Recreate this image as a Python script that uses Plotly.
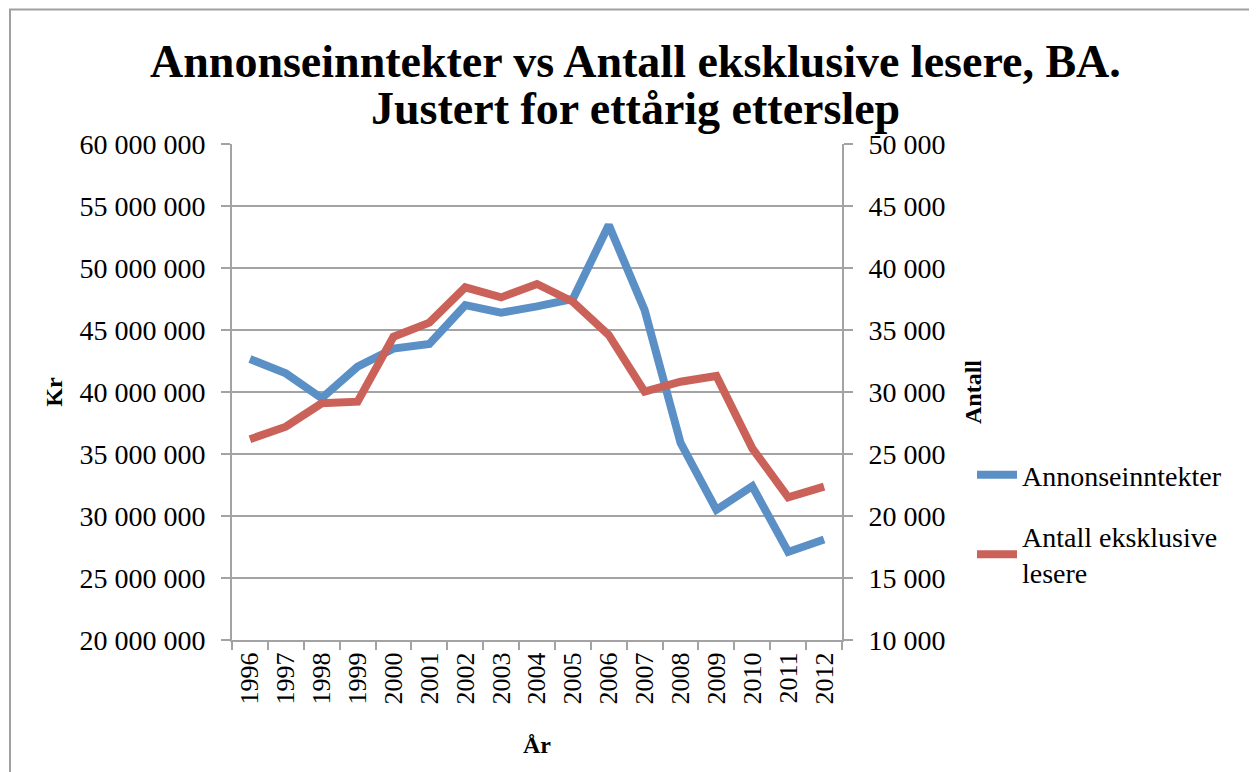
import plotly.graph_objects as go

years = [str(y) for y in range(1996, 2013)]
annonseinntekter = [42660000, 41500000, 39500000, 42040000, 43500000, 43870000, 47000000,
                    46400000, 46900000, 47500000, 53470000, 46600000, 35900000, 30500000,
                    32400000, 27100000, 28100000]
eksklusive_lesere = [26190, 27200, 29090, 29220, 34460, 35590, 38440, 37630, 38710,
                     37280, 34600, 30030, 30830, 31290, 25460, 21500, 22370]

title_line1 = "Annonseinntekter vs Antall eksklusive lesere, BA."
title_line2 = "Justert for ettårig etterslep"
blue = "#5b90c7"
red = "#cb625a"
grid = "#a3a3a3"
font_family = "Liberation Serif"

# page body has an 8px margin; work in figure (container) pixels
W, H = 1249, 764
L, R, T, B = 224, 834, 136, 632
pw, ph = R - L, B - T


def px_x(x):
    return (x - L) / pw


def px_y(y):
    return (B - y) / ph


fig = go.Figure()
fig.add_trace(go.Scatter(x=years, y=annonseinntekter, mode="lines", name="Annonseinntekter",
                         legendgroup="a",
                         line=dict(color=blue, width=8), yaxis="y"))
fig.add_trace(go.Scatter(x=years, y=eksklusive_lesere, mode="lines",
                         name="Antall eksklusive<br>lesere", legendgroup="b",
                         line=dict(color=red, width=8), yaxis="y2"))

fig.add_shape(type="rect", xref="paper", yref="paper",
              x0=px_x(2), x1=px_x(1247), y0=px_y(790), y1=px_y(1.5),
              line=dict(color="#a0a0a0", width=2), fillcolor="rgba(0,0,0,0)", layer="below")

title_font = dict(family=font_family, size=46, color="black", weight="bold")
fig.add_annotation(text=title_line1, xref="paper", yref="paper", x=px_x(W / 2 + 3), y=px_y(53),
                   xanchor="center", yanchor="middle", showarrow=False, font=title_font)
fig.add_annotation(text=title_line2, xref="paper", yref="paper", x=px_x(W / 2 + 3), y=px_y(100),
                   xanchor="center", yanchor="middle", showarrow=False, font=title_font)

fig.update_layout(
    width=W, height=H,
    margin=dict(l=L, r=W - R, t=T, b=H - B, pad=0),
    paper_bgcolor="white", plot_bgcolor="white",
    separators=", ",
    font=dict(family=font_family, size=28, color="black"),
    xaxis=dict(type="category", range=[-0.5, 16.5], tickangle=-90,
               ticks="outside", tickson="boundaries", ticklen=8, tickcolor=grid, tickwidth=2,
               showline=True, linecolor=grid, linewidth=2, showgrid=False,
               title=dict(text="År", font=dict(size=24, weight="bold"), standoff=33),
               tickfont=dict(size=26)),
    yaxis=dict(range=[20000000, 60000000], dtick=5000000, tickformat=",d",
               showgrid=True, gridcolor=grid, gridwidth=2,
               showline=True, linecolor=grid, linewidth=2,
               ticks="outside", ticklen=9, tickcolor=grid, tickwidth=2,
               ticklabelstandoff=10, zeroline=False,
               title=dict(text="Kr", font=dict(size=24, weight="bold"), standoff=10)),
    yaxis2=dict(range=[10000, 50000], dtick=5000, tickformat=",d", overlaying="y", side="right",
                showgrid=False, showline=True, linecolor=grid, linewidth=2,
                ticks="outside", ticklen=9, tickcolor=grid, tickwidth=2,
                ticklabelstandoff=10, zeroline=False,
                title=dict(text="Antall", font=dict(size=24, weight="bold"), standoff=20)),
    legend=dict(x=px_x(964), y=px_y(442), xanchor="left", yanchor="top",
                font=dict(size=28), bgcolor="rgba(0,0,0,0)", tracegroupgap=22,
                traceorder="grouped", itemwidth=40),
    showlegend=True,
)

fig.write_html("out.html")
